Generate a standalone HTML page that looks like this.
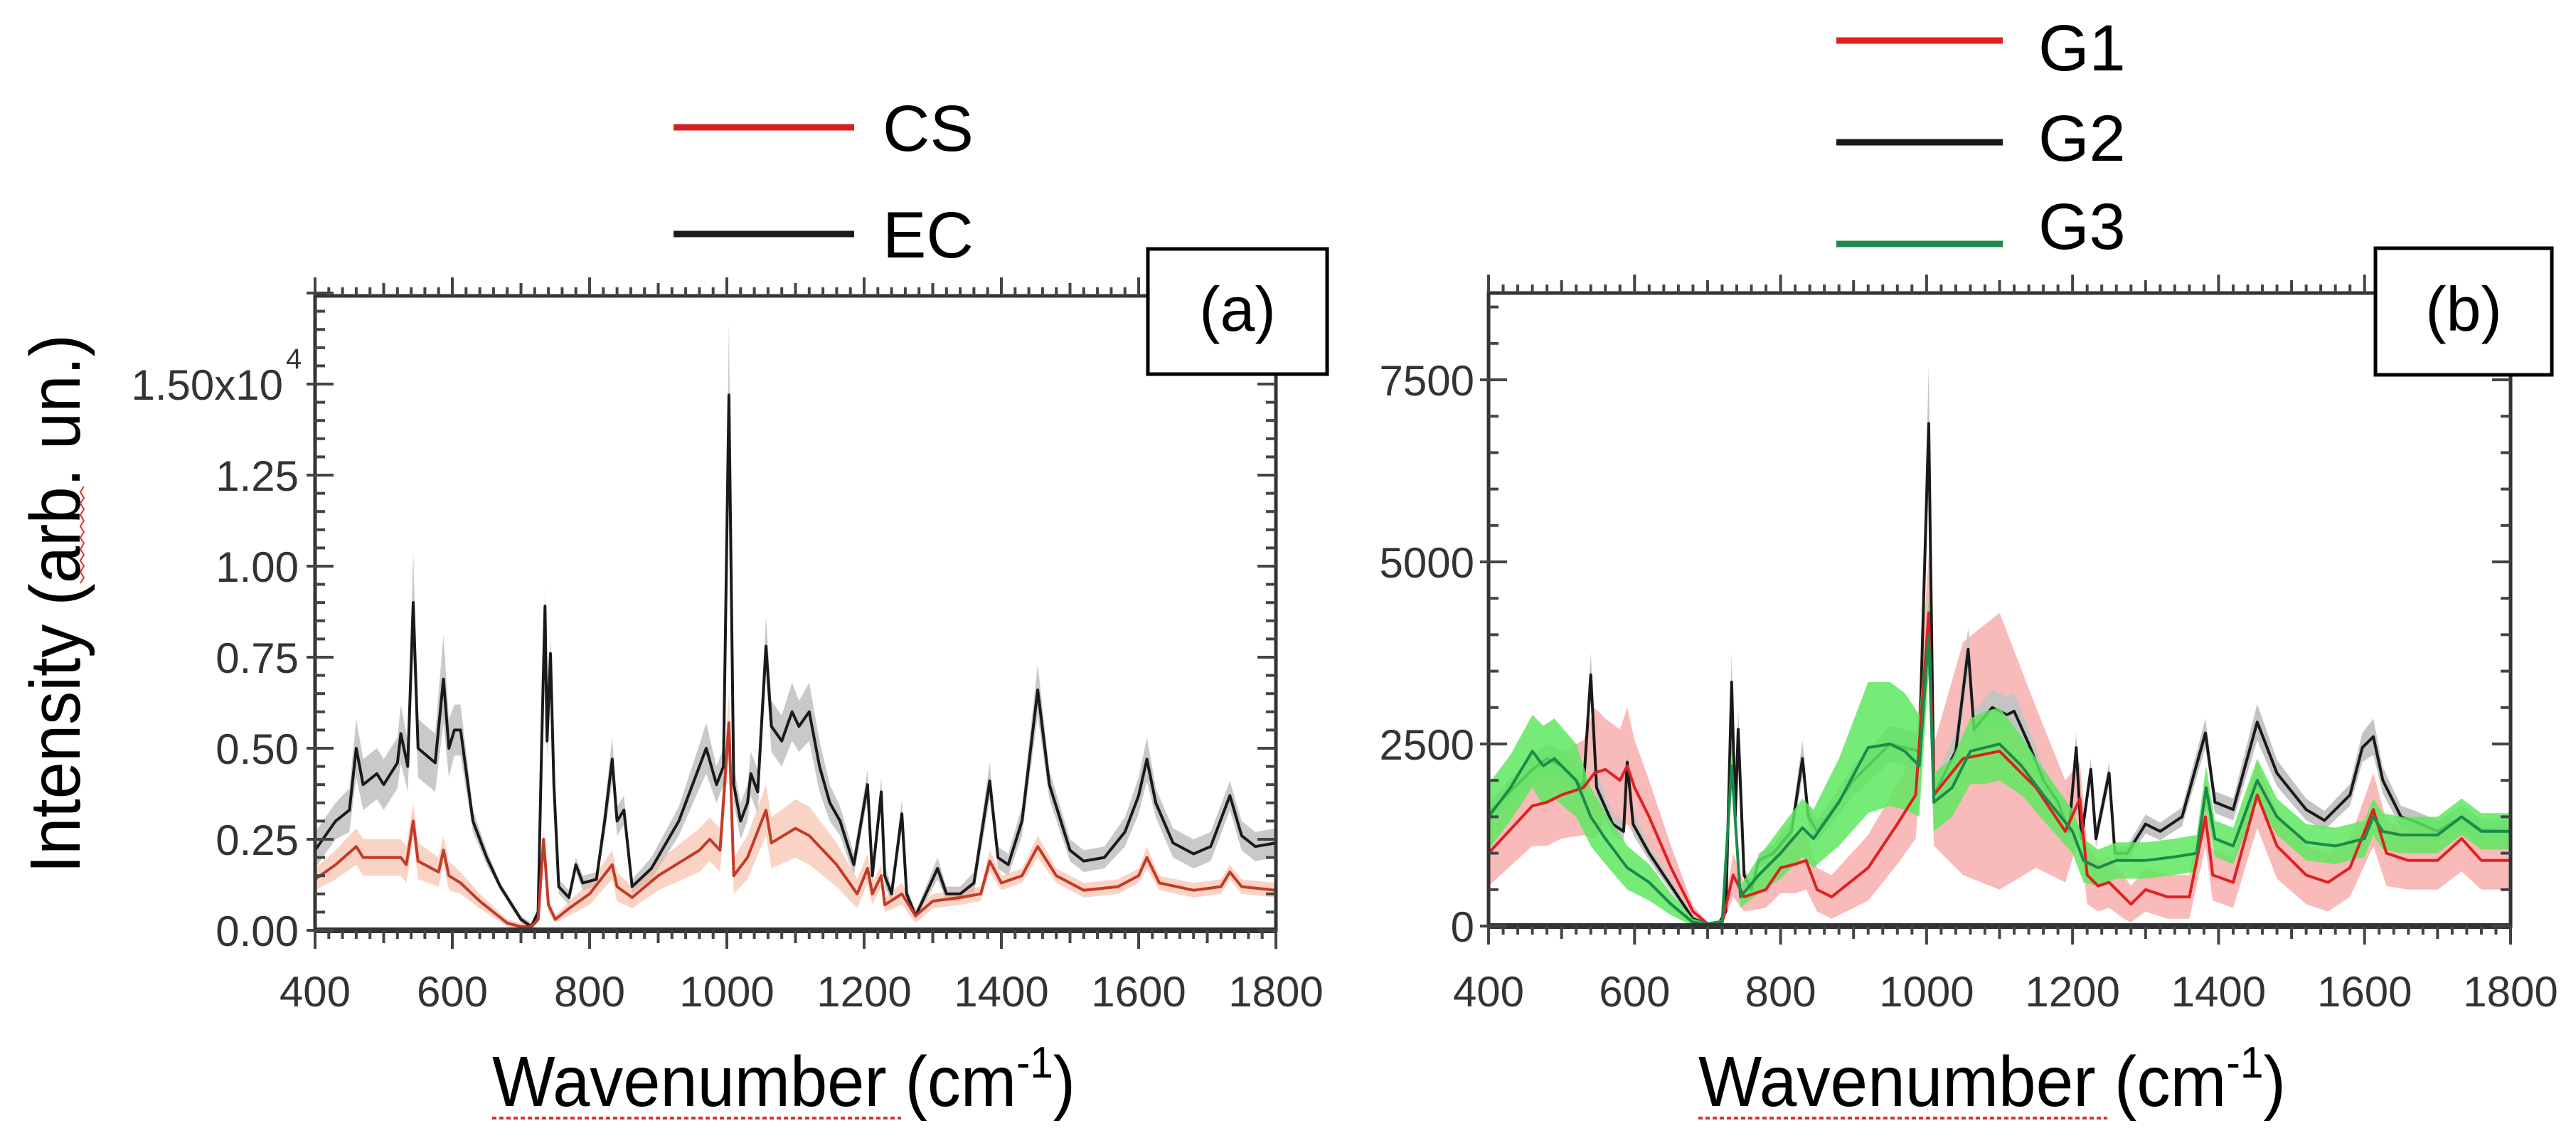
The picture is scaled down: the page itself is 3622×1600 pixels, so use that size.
<!DOCTYPE html>
<html><head><meta charset="utf-8"><style>
html,body{margin:0;padding:0;background:#fff;}
svg{display:block;}
.tick{font-family:"Liberation Sans Narrow","Liberation Sans",sans-serif;font-size:60px;fill:#333;}
.leg{font-family:"Liberation Sans Narrow","Liberation Sans",sans-serif;font-size:92px;fill:#000;}
.ttl{font-family:"Liberation Sans",sans-serif;font-size:100px;fill:#000;}
</style></head><body>
<svg id="fig" width="3622" height="1600" viewBox="0 0 3622 1600" xmlns="http://www.w3.org/2000/svg">
<g id="bands"></g>
<g id="axes"></g>
<g>
<line x1="947" y1="179" x2="1201" y2="179" stroke="#d42020" stroke-width="9"/>
<text class="leg" x="1241" y="212">CS</text>
<line x1="947" y1="329" x2="1201" y2="329" stroke="#1a1a1a" stroke-width="9"/>
<text class="leg" x="1241" y="362">EC</text>
</g>
<g>
<line x1="2582" y1="57" x2="2816" y2="57" stroke="#e02020" stroke-width="9"/>
<text class="leg" x="2866" y="99">G1</text>
<line x1="2582" y1="200" x2="2816" y2="200" stroke="#1a1a1a" stroke-width="9"/>
<text class="leg" x="2866" y="226">G2</text>
<line x1="2582" y1="343" x2="2816" y2="343" stroke="#1b8a4a" stroke-width="9"/>
<text class="leg" x="2866" y="350">G3</text>
</g>
<g>
<rect x="1614" y="350" width="252" height="176" fill="#fff" stroke="#000" stroke-width="5"/>
<text class="leg" x="1740" y="465" text-anchor="middle" style="font-size:88px">(a)</text>
</g>
<g>
<rect x="3340" y="349" width="248" height="178" fill="#fff" stroke="#000" stroke-width="5"/>
<text class="leg" x="3464" y="465" text-anchor="middle" style="font-size:88px">(b)</text>
</g>
<text class="ttl" transform="translate(112,849) rotate(-90)" text-anchor="middle" textLength="758" lengthAdjust="spacingAndGlyphs">Intensity (arb. un.)</text>
<path d="M118 684 l-5 8 l5 8 l-5 8 l5 8 l-5 8 l5 8 l-5 8 l5 8 l-5 8 l5 8 l-5 8 l5 8 l-5 8 l5 8 l-5 8 l5 8 l-5 8" fill="none" stroke="#e03030" stroke-width="2"/>
<text class="ttl" x="692" y="1555" textLength="820" lengthAdjust="spacingAndGlyphs">Wavenumber (cm<tspan dy="-40" style="font-size:62px">-1</tspan><tspan dy="40">)</tspan></text>
<text class="ttl" x="2388" y="1555" textLength="826" lengthAdjust="spacingAndGlyphs">Wavenumber (cm<tspan dy="-40" style="font-size:62px">-1</tspan><tspan dy="40">)</tspan></text>
<path d="M692 1572 h575" stroke="#e03030" stroke-width="4" stroke-dasharray="6 4"/>
<path d="M2388 1572 h575" stroke="#e03030" stroke-width="4" stroke-dasharray="6 4"/>
</svg>
<script>
// ---------- Panel (a) data (intensity in units of 1e4) ----------
const ecX = [400,430,450,460,470,490,500,520,525,535,543,550,575,587,595,603,612,630,650,670,700,715,725,730,735,738,743,748,755,770,780,790,810,822,833,840,850,862,890,930,960,970,985,995,1003,1010,1020,1030,1035,1045,1057,1065,1080,1095,1105,1120,1135,1150,1165,1185,1205,1212,1225,1230,1240,1255,1262,1275,1290,1307,1320,1340,1360,1383,1395,1410,1430,1453,1470,1500,1520,1550,1580,1600,1612,1625,1650,1680,1705,1733,1750,1770,1800];
const ecY = [0.22,0.30,0.33,0.50,0.40,0.43,0.40,0.46,0.54,0.45,0.90,0.50,0.46,0.69,0.50,0.55,0.55,0.30,0.20,0.12,0.03,0.01,0.05,0.50,0.89,0.52,0.76,0.40,0.12,0.09,0.18,0.13,0.14,0.30,0.47,0.30,0.33,0.12,0.17,0.30,0.45,0.50,0.40,0.45,1.47,0.40,0.30,0.35,0.43,0.38,0.78,0.56,0.52,0.60,0.56,0.60,0.45,0.35,0.30,0.18,0.40,0.15,0.38,0.15,0.10,0.32,0.10,0.04,0.10,0.17,0.10,0.10,0.13,0.41,0.20,0.18,0.30,0.66,0.40,0.22,0.19,0.20,0.27,0.37,0.47,0.35,0.24,0.21,0.23,0.37,0.26,0.23,0.24];
const ecSd = [0.05,0.05,0.06,0.08,0.07,0.07,0.07,0.07,0.08,0.07,0.14,0.08,0.08,0.12,0.08,0.07,0.07,0.03,0.02,0.01,0.01,0.01,0.01,0.05,0.05,0.05,0.05,0.04,0.02,0.02,0.02,0.02,0.02,0.04,0.06,0.04,0.04,0.02,0.03,0.04,0.06,0.07,0.05,0.05,0.2,0.05,0.05,0.05,0.06,0.06,0.08,0.07,0.07,0.08,0.07,0.08,0.07,0.05,0.04,0.03,0.04,0.03,0.04,0.03,0.02,0.04,0.02,0.01,0.02,0.03,0.02,0.02,0.03,0.05,0.03,0.03,0.04,0.07,0.04,0.03,0.03,0.03,0.04,0.05,0.06,0.04,0.04,0.04,0.04,0.04,0.04,0.04,0.04];
const csX = [400,430,460,470,500,525,533,543,550,580,587,595,612,640,680,700,715,725,733,740,750,770,800,833,840,862,900,960,975,990,1003,1010,1030,1057,1065,1100,1120,1160,1190,1205,1212,1225,1230,1255,1275,1300,1340,1370,1383,1400,1430,1453,1480,1520,1570,1600,1612,1630,1680,1720,1733,1750,1800];
const csY = [0.14,0.18,0.23,0.20,0.20,0.20,0.18,0.30,0.19,0.16,0.22,0.15,0.13,0.08,0.02,0.01,0.01,0.03,0.25,0.07,0.03,0.06,0.10,0.18,0.12,0.09,0.15,0.22,0.25,0.22,0.57,0.15,0.20,0.33,0.24,0.28,0.26,0.18,0.10,0.17,0.10,0.15,0.07,0.10,0.04,0.08,0.09,0.10,0.19,0.13,0.15,0.23,0.15,0.11,0.12,0.15,0.20,0.13,0.11,0.12,0.16,0.12,0.11];
const csSd = [0.03,0.04,0.05,0.05,0.05,0.05,0.05,0.05,0.05,0.04,0.04,0.04,0.03,0.02,0.01,0.01,0.01,0.01,0.03,0.02,0.01,0.02,0.03,0.04,0.04,0.03,0.04,0.06,0.06,0.06,0.08,0.05,0.06,0.07,0.07,0.08,0.08,0.06,0.04,0.04,0.03,0.03,0.02,0.03,0.02,0.02,0.02,0.02,0.03,0.02,0.02,0.03,0.02,0.02,0.02,0.02,0.03,0.02,0.02,0.02,0.02,0.02,0.02];
// ---------- Panel (b) data ----------
const g1X = [400,460,480,500,530,545,560,580,590,600,620,650,680,700,720,735,750,780,800,820,835,850,870,920,960,985,1003,1010,1050,1100,1150,1190,1210,1220,1235,1250,1270,1280,1300,1330,1360,1382,1392,1420,1453,1480,1520,1550,1580,1612,1630,1660,1700,1733,1760,1800];
const g1Y = [1000,1650,1700,1800,1900,2100,2150,2000,2200,1900,1500,800,200,30,50,700,400,500,800,850,900,500,400,800,1400,1800,4300,1800,2300,2400,1900,1300,1750,700,550,600,400,300,500,400,400,1500,700,600,1800,1100,700,600,800,1600,1000,900,900,1200,900,900];
const g1Sd = [450,550,600,600,650,900,700,700,800,650,500,300,80,20,30,300,200,250,350,400,400,300,300,450,550,600,800,700,1600,1900,1100,700,500,400,350,350,300,250,300,300,300,400,350,350,450,450,400,400,400,500,450,400,400,450,400,400];
const g2X = [400,460,480,500,530,540,548,570,585,590,598,620,650,680,700,715,725,733,738,742,750,760,770,790,815,830,838,850,900,950,990,1003,1010,1040,1057,1065,1090,1110,1120,1140,1160,1180,1195,1205,1212,1225,1232,1250,1258,1275,1300,1320,1350,1382,1395,1420,1453,1480,1520,1545,1580,1597,1612,1625,1650,1665,1700,1733,1760,1800];
const g2Y = [1550,2150,2300,2200,1900,3450,1900,1400,1300,2250,1400,1000,550,100,30,30,200,3350,1500,2700,700,500,900,1000,1300,2300,1500,1300,2000,2500,2400,6900,1800,2400,3800,2700,3000,2900,2950,2500,2000,1700,1300,2450,1200,2150,1200,2100,1000,1000,1400,1300,1500,2650,1700,1600,2800,2100,1600,1450,1800,2450,2600,2000,1500,1450,1300,1500,1320,1300];
const g2Sd = [150,200,200,200,200,300,200,150,150,200,150,100,80,40,20,20,40,400,200,300,100,100,100,120,150,250,150,150,200,250,250,800,200,250,300,250,250,250,250,200,180,150,130,200,120,150,120,150,100,100,130,120,130,200,150,150,250,180,150,130,150,200,250,180,150,150,150,150,150,150];
const g3X = [400,430,460,475,490,520,540,560,590,620,650,680,700,720,733,745,770,800,830,845,880,920,950,970,990,1003,1010,1035,1060,1080,1100,1130,1160,1200,1215,1235,1260,1300,1340,1370,1383,1395,1420,1453,1480,1520,1560,1600,1612,1625,1650,1700,1733,1760,1800];
const g3Y = [1500,1900,2400,2200,2300,2000,1500,1200,800,600,300,50,30,60,2200,400,700,1000,1350,1200,1700,2450,2500,2400,2200,4000,1700,1900,2400,2450,2500,2200,1800,1300,900,800,900,900,950,1000,1900,1200,1100,2000,1500,1150,1100,1200,1500,1300,1250,1250,1500,1300,1300];
const g3Sd = [450,450,500,550,550,500,400,350,300,250,150,50,20,30,300,150,250,350,400,400,600,900,850,800,700,500,400,400,450,500,500,400,350,300,300,250,250,250,250,250,300,250,250,300,250,250,250,250,250,250,250,250,250,250,250];
const aYTicks = [0,0.25,0.5,0.75,1.0,1.25];
const aYLabels = ["0.00","0.25","0.50","0.75","1.00","1.25"];
const bYTicks = [0,2500,5000,7500];
const bYLabels = ["0","2500","5000","7500"];
const xTicks = [400,600,800,1000,1200,1400,1600,1800];

const NS="http://www.w3.org/2000/svg";
const bandsG=document.getElementById('bands');
const axesG=document.getElementById('axes');
const xA=w=>443+(w-400)*(1794-443)/1400;
const yA=v=>1308-v*512;
const xB=w=>2093+(w-400)*(3530-2093)/1400;
const yB=v=>1302-v*256/2500;

function linePath(xs,ys,fx,fy){return xs.map((x,i)=>(i?'L':'M')+fx(x).toFixed(1)+' '+fy(ys[i]).toFixed(1)).join(' ');}
function bandPath(xs,ys,sd,fx,fy){
  let up=xs.map((x,i)=>(i?'L':'M')+fx(x).toFixed(1)+' '+fy(ys[i]+sd[i]).toFixed(1)).join(' ');
  let lo='';for(let i=xs.length-1;i>=0;i--){lo+=' L'+fx(xs[i]).toFixed(1)+' '+fy(Math.max(0,ys[i]-sd[i])).toFixed(1);}
  return up+lo+' Z';
}
function mk(tag,attrs,parent){const e=document.createElementNS(NS,tag);for(const k in attrs)e.setAttribute(k,attrs[k]);(parent||bandsG).appendChild(e);return e;}

let e;
e=mk('path',{d:bandPath(ecX,ecY,ecSd,xA,yA),fill:'#c9c9c9'});


e=mk('path',{d:bandPath(csX,csY,csSd,xA,yA),fill:'#f5b89e',opacity:'0.6'});


e=mk('path',{d:linePath(ecX,ecY,xA,yA),fill:'none',stroke:'#1a1a1a','stroke-width':4,'stroke-linejoin':'round'});


e=mk('path',{d:linePath(csX,csY,xA,yA),fill:'none',stroke:'#c43a28','stroke-width':4,'stroke-linejoin':'round'});


e=mk('path',{d:bandPath(g1X,g1Y,g1Sd,xB,yB),fill:'#f7a9a9',opacity:'0.8'});


e=mk('path',{d:bandPath(g2X,g2Y,g2Sd,xB,yB),fill:'#c4c4c4'});


e=mk('path',{d:linePath(g2X,g2Y,xB,yB),fill:'none',stroke:'#1a1a1a','stroke-width':4,'stroke-linejoin':'round'});


e=mk('path',{d:bandPath(g3X,g3Y,g3Sd,xB,yB),fill:'#5fe85f',opacity:'0.85'});


e=mk('path',{d:linePath(g1X,g1Y,xB,yB),fill:'none',stroke:'#e02020','stroke-width':4,'stroke-linejoin':'round'});


e=mk('path',{d:linePath(g3X,g3Y,xB,yB),fill:'none',stroke:'#1b8a4a','stroke-width':4,'stroke-linejoin':'round'});



function frame(L,R,T,B,fx,fy,yStepMinor,yMax,yMajor,name){
  const g=mk('g',{},axesG);
  
  
  mk('rect',{x:L,y:T,width:R-L,height:B-T,fill:'none',stroke:'#333','stroke-width':5},g);
  mk('line',{x1:L,y1:B,x2:R,y2:B,stroke:'#333','stroke-width':8},g);
  for(let w=400;w<=1800;w+=20){
    const x=fx(w);const len=(w%200===0)?26:(w%100===0)?18:12;
    mk('line',{x1:x,y1:B,x2:x,y2:B+len,stroke:'#444','stroke-width':4},g);
    mk('line',{x1:x,y1:T,x2:x,y2:T-len,stroke:'#444','stroke-width':4},g);
  }
  for(let v=0;v<=yMax+1e-9;v+=yStepMinor){
    const y=fy(v);const maj=Math.abs(v/yMajor-Math.round(v/yMajor))<1e-6;const len=maj?26:14;
    mk('line',{x1:L,y1:y,x2:L+len,y2:y,stroke:'#444','stroke-width':4},g);
    mk('line',{x1:R,y1:y,x2:R-len,y2:y,stroke:'#444','stroke-width':4},g);
    if(maj) mk('line',{x1:L,y1:y,x2:L-12,y2:y,stroke:'#444','stroke-width':4},g);
  }
  return g;
}
frame(443,1794,416,1308,xA,yA,0.05,1.75,0.25,'panel-a');
frame(2093,3530,412,1302,xB,yB,500,8500,2500,'panel-b');

function txt(x,y,s,anchor,name){const t=mk('text',{x:x,y:y,'text-anchor':anchor,class:'tick'},axesG);t.textContent=s;return t;}
xTicks.forEach(w=>{
  txt(xA(w),1415,String(w),'middle','x-tick-a');
  txt(xB(w),1415,String(w),'middle','x-tick-b');
});
aYTicks.forEach((v,i)=>{txt(420,yA(v)+22,aYLabels[i],'end','y-tick-a');});
bYTicks.forEach((v,i)=>{txt(2073,yB(v)+22,bYLabels[i],'end','y-tick-b');});
let t=txt(398,yA(1.5)+22,'1.50x10','end','y-tick-a-top');
t=txt(402,yA(1.5)-22,'4','start','y-tick-a-exponent');
t.setAttribute('style','font-size:40px');
</script>
</body></html>
